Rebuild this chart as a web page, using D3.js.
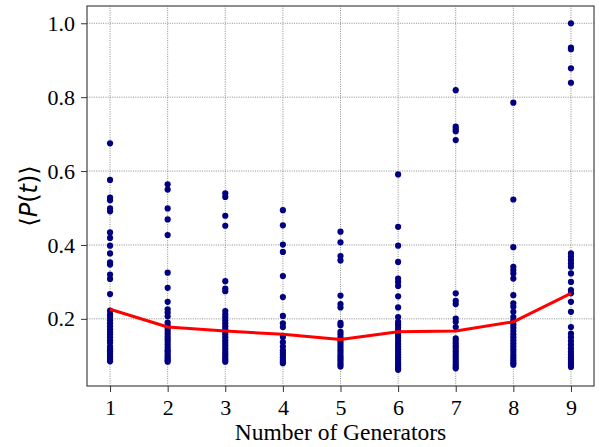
<!DOCTYPE html>
<html>
<head>
<meta charset="utf-8">
<script src="https://cdn.jsdelivr.net/npm/d3@7"></script>
<style>
  body { margin: 0; background: #fff; }
</style>
</head>
<body>
<div id="chart"></div>
<script>
// number of generators on the x axis
var generators = [1, 2, 3, 4, 5, 6, 7, 8, 9];

// <P(t)> values per generator count
var p1 = [0.675, 0.576, 0.528, 0.521, 0.499, 0.491, 0.434, 0.419, 0.398, 0.377, 0.353, 0.347, 0.320, 0.308, 0.267,
  0.222, 0.212, 0.205, 0.196, 0.188, 0.180, 0.172, 0.165, 0.158, 0.150, 0.142, 0.135, 0.125, 0.118, 0.112, 0.106, 0.100, 0.095, 0.090, 0.085];
var p2 = [0.564, 0.550, 0.499, 0.469, 0.427, 0.325, 0.284, 0.246, 0.226, 0.217, 0.207, 0.190, 0.182,
  0.175, 0.168, 0.160, 0.152, 0.145, 0.138, 0.130, 0.122, 0.115, 0.110, 0.104, 0.098, 0.093, 0.088, 0.084];
var p3 = [0.540, 0.530, 0.479, 0.452, 0.302, 0.282, 0.275, 0.221, 0.212, 0.204, 0.196,
  0.188, 0.180, 0.172, 0.165, 0.158, 0.150, 0.142, 0.135, 0.128, 0.120, 0.113, 0.106, 0.100, 0.094, 0.089, 0.084];
var p4 = [0.494, 0.453, 0.401, 0.381, 0.316, 0.259, 0.208, 0.188, 0.178, 0.151, 0.137, 0.125, 0.115,
  0.108, 0.102, 0.096, 0.090, 0.085, 0.080];
var p5 = [0.436, 0.407, 0.370, 0.358, 0.263, 0.240, 0.231, 0.189, 0.183, 0.165, 0.158, 0.150,
  0.143, 0.136, 0.129, 0.122, 0.115, 0.108, 0.101, 0.095, 0.089, 0.083, 0.077, 0.071];
var p6 = [0.591, 0.449, 0.398, 0.354, 0.309, 0.300, 0.289, 0.261, 0.231, 0.205, 0.192, 0.185,
  0.178, 0.170, 0.162, 0.155, 0.148, 0.140, 0.132, 0.125, 0.118, 0.110, 0.103, 0.096, 0.090, 0.083, 0.077, 0.071, 0.066, 0.062];
var p7 = [0.819, 0.720, 0.714, 0.708, 0.684, 0.269, 0.249, 0.240, 0.201, 0.192, 0.178, 0.147,
  0.140, 0.133, 0.126, 0.119, 0.112, 0.105, 0.098, 0.091, 0.084, 0.077, 0.071, 0.066];
var p8 = [0.785, 0.523, 0.394, 0.341, 0.332, 0.323, 0.309, 0.264, 0.242, 0.233, 0.219, 0.205, 0.195,
  0.185, 0.176, 0.167, 0.158, 0.150, 0.142, 0.134, 0.126, 0.118, 0.110, 0.102, 0.095, 0.088, 0.081, 0.076];
var p9 = [1.000, 0.934, 0.930, 0.878, 0.839, 0.377, 0.368, 0.359, 0.350, 0.341, 0.323, 0.300, 0.278, 0.269, 0.246,
  0.219, 0.178, 0.160, 0.150, 0.140, 0.130, 0.120, 0.111, 0.103, 0.096, 0.089, 0.082, 0.076, 0.070];
var pointSets = [p1, p2, p3, p4, p5, p6, p7, p8, p9];

// mean <P(t)> per generator count (the red line)
var means = [0.226, 0.178, 0.167, 0.158, 0.144, 0.165, 0.167, 0.192, 0.269];

var yTicks = [0.2, 0.4, 0.6, 0.8, 1.0];

var width = 612, height = 447;
var margin = { left: 87, right: 18, top: 6, bottom: 61 };
var serif = 'Liberation Serif';

var svg = d3.select('#chart').append('svg')
  .attr('width', width)
  .attr('height', height);

var x = d3.scaleLinear()
  .domain([0.6, 9.4])
  .range([margin.left, width - margin.right]);

var y = d3.scaleLinear()
  .domain([0.01825, 1.04675])
  .range([height - margin.bottom, margin.top]);

// dotted grid
svg.append('g')
  .selectAll('line')
  .data(generators)
  .enter().append('line')
  .attr('x1', d => x(d)).attr('x2', d => x(d))
  .attr('y1', y.range()[0]).attr('y2', y.range()[1])
  .attr('stroke', '#707070').attr('stroke-width', 0.8)
  .attr('stroke-dasharray', '1,1.3');

svg.append('g')
  .selectAll('line')
  .data(yTicks)
  .enter().append('line')
  .attr('x1', x.range()[0]).attr('x2', x.range()[1])
  .attr('y1', d => y(d)).attr('y2', d => y(d))
  .attr('stroke', '#707070').attr('stroke-width', 0.8)
  .attr('stroke-dasharray', '1,1.3');

// scatter points
var flat = [];
pointSets.forEach(function(vals, i) {
  vals.forEach(function(v) { flat.push({ g: generators[i], v: v }); });
});

svg.append('g')
  .selectAll('circle')
  .data(flat)
  .enter().append('circle')
  .attr('cx', d => x(d.g))
  .attr('cy', d => y(d.v))
  .attr('r', 3.1)
  .attr('fill', '#000080');

// mean line
var line = d3.line()
  .x((d, i) => x(generators[i]))
  .y(d => y(d));

svg.append('path')
  .datum(means)
  .attr('d', line)
  .attr('fill', 'none')
  .attr('stroke', '#ff0000')
  .attr('stroke-width', 3)
  .attr('stroke-linejoin', 'round');

// axes
var xAxis = svg.append('g')
  .attr('transform', 'translate(0,' + (height - margin.bottom) + ')')
  .call(d3.axisBottom(x).tickValues(generators).tickSize(6).tickPadding(7).tickFormat(d3.format('d')));

var yAxis = svg.append('g')
  .attr('transform', 'translate(' + margin.left + ',0)')
  .call(d3.axisLeft(y).tickValues(yTicks).tickSize(6).tickPadding(6).tickFormat(d3.format('.1f')));

xAxis.attr('font-family', serif).attr('font-size', 22);
yAxis.attr('font-family', serif).attr('font-size', 22);
xAxis.select('.domain').remove();
yAxis.select('.domain').remove();
svg.selectAll('.tick line').attr('stroke', '#333').attr('stroke-width', 1);
svg.selectAll('.tick text').attr('fill', '#000');

// frame
svg.append('rect')
  .attr('x', x.range()[0]).attr('y', y.range()[1])
  .attr('width', x.range()[1] - x.range()[0])
  .attr('height', y.range()[0] - y.range()[1])
  .attr('fill', 'none')
  .attr('stroke', '#444')
  .attr('stroke-width', 1.2);

// axis titles
svg.append('text')
  .attr('x', (x.range()[0] + x.range()[1]) / 2)
  .attr('y', 440)
  .attr('text-anchor', 'middle')
  .attr('font-family', serif)
  .attr('font-size', 23.5)
  .attr('fill', '#000')
  .text('Number of Generators');

var ylab = svg.append('text')
  .attr('transform', 'translate(37,' + ((y.range()[0] + y.range()[1]) / 2) + ') rotate(-90)')
  .attr('text-anchor', 'middle')
  .attr('font-family', 'DejaVu Sans')
  .attr('font-size', 24)
  .attr('fill', '#000');
ylab.append('tspan').text('\u27E8');
ylab.append('tspan').attr('font-style', 'italic').text('P');
ylab.append('tspan').text('(');
ylab.append('tspan').attr('font-style', 'italic').text('t');
ylab.append('tspan').text(')\u27E9');
</script>
</body>
</html>
